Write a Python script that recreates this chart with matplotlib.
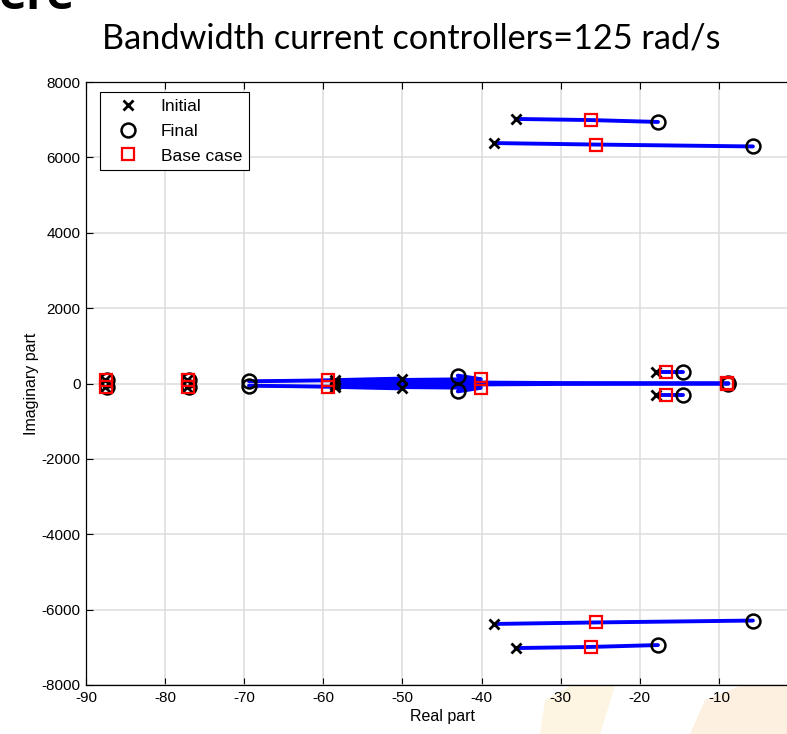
import matplotlib.pyplot as plt
import numpy as np
from matplotlib.patches import Polygon

plt.rcParams['axes.unicode_minus'] = False

W, H = 787, 734

# eigenvalue traces (upper half plane, mirrored below), points along the sweep
# first point = initial, base_idx = base case, last point = final
traces_re = [
    [-35.7, -26.2, -17.7],
    [-38.4, -25.5, -5.7],
    [-17.9, -16.7, -14.5],
    [-87.6, -87.5, -87.4],
    [-77.2, -77.1, -77.0],
    [-50.1, -54.5, -59.4, -64.5, -69.4],
    [-58.5, -50.0, -40.1, -41.5, -43.0],
    [-58.5, -50.0, -43.0, -38.0, -30.0, -20.0, -9.0, -8.8],
]
traces_im = [
    [7020, 6990, 6940],
    [6380, 6340, 6290],
    [300, 300, 300],
    [80, 80, 80],
    [80, 80, 80],
    [130, 110, 85, 70, 60],
    [85, 95, 115, 160, 210],
    [30, 30, 30, 22, 12, 10, 8, 8],
]
base_idx = [1, 1, 1, 1, 1, 2, 2, 6]

x_ticks = [-90, -80, -70, -60, -50, -40, -30, -20, -10]
y_ticks = [-8000, -6000, -4000, -2000, 0, 2000, 4000, 6000, 8000]

fig = plt.figure(figsize=(W / 100, H / 100), dpi=100)


def px(points):
    # picture pixels (from top-left) -> display coords
    return [[x, H - y] for x, y in points]


# faint logo background below the axes
fig.patches.append(Polygon(px([[690, 734], [705, 700], [740, 686], [787, 686], [787, 734]]),
                           closed=True, transform=None, fc='#fdf0e0', ec='none', zorder=-5))
fig.patches.append(Polygon(px([[540, 734], [545, 700], [570, 686], [615, 686], [600, 734]]),
                           closed=True, transform=None, fc='#fdf5e2', ec='none', zorder=-5))

ax = fig.add_axes([86 / W, 1 - 685 / H, 712 / W, 603 / H])

for re, im in zip(traces_re, traces_im):
    im = np.array(im)
    for s in (1, -1):
        ax.plot(re, s * im, '-', color='#0000ff', lw=2.8, solid_capstyle='round', zorder=2)

for re, im, b in zip(traces_re, traces_im, base_idx):
    for s in (1, -1):
        ax.plot(re[0], s * im[0], 'x', color='k', ms=7, mew=2, zorder=3)
        ax.plot(re[-1], s * im[-1], 'o', mfc='none', mec='k', ms=10, mew=1.8, zorder=3)
        ax.plot(re[b], s * im[b], 's', mfc='none', mec='#ff0000', ms=8, mew=1.6, zorder=4)

# legend handles
h1, = ax.plot([], [], 'x', color='k', ms=7, mew=2, label='Initial')
h2, = ax.plot([], [], 'o', mfc='none', mec='k', ms=10, mew=1.8, label='Final')
h3, = ax.plot([], [], 's', mfc='none', mec='#ff0000', ms=8, mew=1.6, label='Base case')
leg = ax.legend(handles=[h1, h2, h3], loc='upper left', bbox_to_anchor=(14 / 712, 593 / 603),
                borderaxespad=0, prop={'family': 'Liberation Sans', 'size': 12.5},
                fancybox=False, edgecolor='k', framealpha=1, handletextpad=0.7,
                borderpad=0.4, labelspacing=0.55, handlelength=2.4)
leg.get_frame().set_linewidth(0.8)

ax.set_xlim(-90, 0)
ax.set_ylim(-8000, 8000)
ax.set_xticks(x_ticks)
ax.set_yticks(y_ticks)
ax.grid(True, color='#dcdcdc', lw=1.1)
ax.set_axisbelow(True)
ax.tick_params(direction='in', top=True, right=True, length=5, labelsize=11, pad=4)
for lbl in ax.get_xticklabels() + ax.get_yticklabels():
    lbl.set_family('Liberation Sans')
for sp in ax.spines.values():
    sp.set_linewidth(0.9)

ax.set_xlabel('Real part', family='Liberation Sans', fontsize=11.5, labelpad=3)
ax.set_ylabel('Imaginary part', family='Liberation Sans', fontsize=11.5, labelpad=2)

fig.text(411 / W, 1 - 38 / H, 'Bandwidth current controllers=125 rad/s',
         family='Lato', fontsize=24.7, ha='center', va='center')
fig.text(-0.002, 1 - 9 / H, 'ere', family='Open Sans', fontweight='bold',
         fontsize=34, ha='left', va='baseline')

fig.savefig('out.png', dpi=100)
